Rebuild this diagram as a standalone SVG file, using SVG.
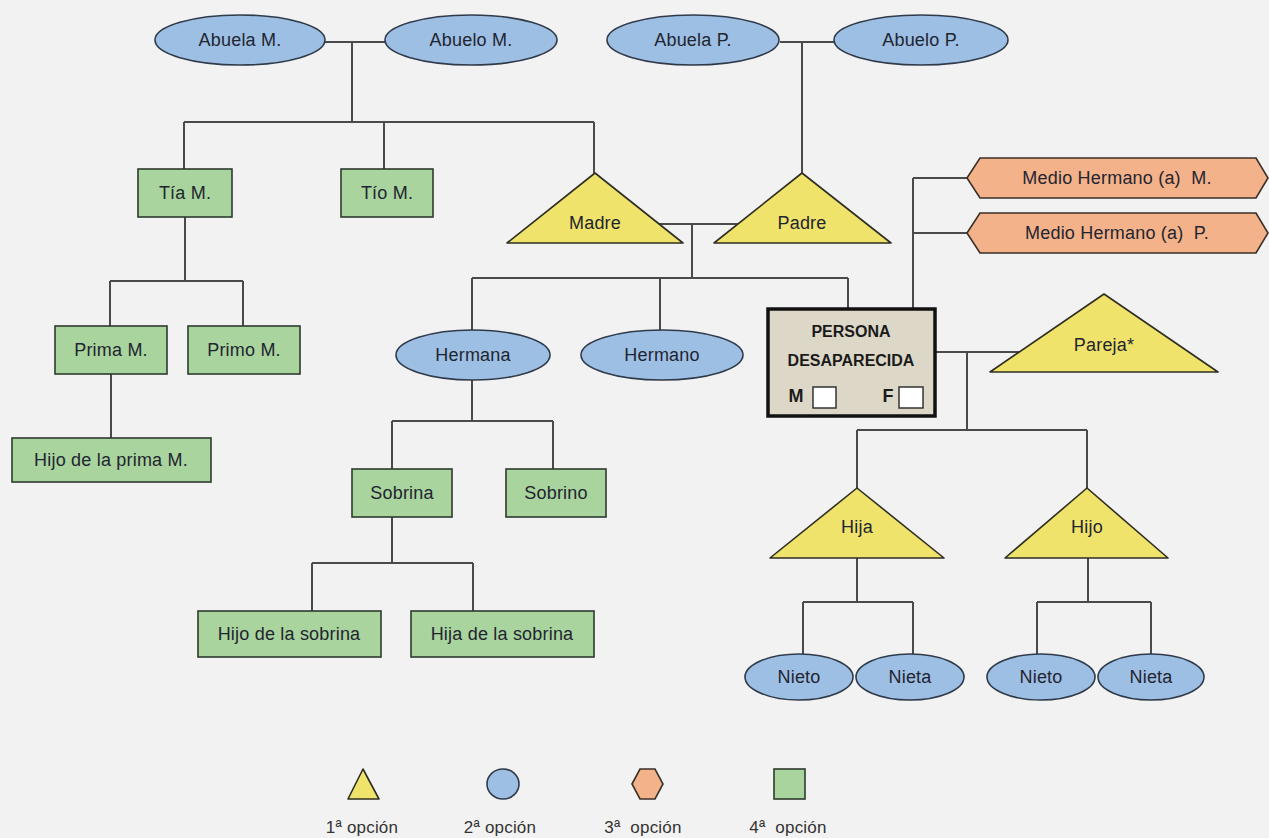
<svg xmlns="http://www.w3.org/2000/svg" width="1269" height="838" viewBox="0 0 1269 838">
<style>
.bg{fill:#f2f2f2}
.c{fill:none;stroke:#4a4a4a;stroke-width:2}
.blue{fill:#9ebfe4;stroke:#2f3a4a;stroke-width:1.6}
.green{fill:#a9d49e;stroke:#2e3a2e;stroke-width:1.6}
.yellow{fill:#efe36c;stroke:#2e2e22;stroke-width:1.6;stroke-linejoin:round}
.orange{fill:#f4b28a;stroke:#3a3028;stroke-width:1.6}
.person{fill:#ddd7c7;stroke:#111;stroke-width:3.5}
.chk{fill:#fff;stroke:#333;stroke-width:1.5}
text{font-family:"Liberation Sans",Arial,sans-serif;font-size:18px;letter-spacing:0.2px;fill:#1f2530;text-anchor:middle;white-space:pre}
.b{font-weight:bold;font-size:16px;fill:#1a1a1a;letter-spacing:0}
.mf{font-weight:bold;font-size:18px;fill:#1a1a1a}
.lg{font-size:17px;fill:#333}
</style>
<rect class="bg" x="0" y="0" width="1269" height="838"/>
<g id="connectors">
<path class="c" d="M325 42 H385 M352 42 V122 M184 122 H594 M184 122 V169 M384 122 V169 M594 122 V173"/>
<path class="c" d="M780 42 H835 M802 42 V173"/>
<path class="c" d="M185 217 V281 M110 281 H243 M110 281 V326 M243 281 V326 M111 374 V438"/>
<path class="c" d="M659 224 H738 M692 224 V278 M472 278 H848 M472 278 V330 M660 278 V330 M848 278 V309"/>
<path class="c" d="M472 380 V421 M392 421 H553 M392 421 V469 M553 421 V469"/>
<path class="c" d="M392 517 V563 M312 563 H473 M312 563 V611 M473 563 V611"/>
<path class="c" d="M913 178 V309 M913 178 H967 M913 233 H967"/>
<path class="c" d="M935 352 H1019 M967 352 V430 M857 430 H1087 M857 430 V488 M1087 430 V488"/>
<path class="c" d="M857 558 V602 M803 602 H913 M803 602 V654 M913 602 V654"/>
<path class="c" d="M1088 558 V602 M1037 602 H1151 M1037 602 V654 M1151 602 V654"/>
</g>
<g id="abuela-m"><ellipse class="blue" cx="240" cy="40" rx="85" ry="25"/><text x="240" y="46">Abuela M.</text></g>
<g id="abuelo-m"><ellipse class="blue" cx="471" cy="40" rx="86" ry="25"/><text x="471" y="46">Abuelo M.</text></g>
<g id="abuela-p"><ellipse class="blue" cx="693" cy="40" rx="86" ry="25"/><text x="693" y="46">Abuela P.</text></g>
<g id="abuelo-p"><ellipse class="blue" cx="921" cy="40" rx="87" ry="25"/><text x="921" y="46">Abuelo P.</text></g>
<g id="tia-m"><rect class="green" x="138" y="169" width="94" height="48"/><text x="185" y="199">Tía M.</text></g>
<g id="tio-m"><rect class="green" x="341" y="169" width="92" height="48"/><text x="387" y="199">Tío M.</text></g>
<g id="prima-m"><rect class="green" x="55" y="326" width="112" height="48"/><text x="111" y="356">Prima M.</text></g>
<g id="primo-m"><rect class="green" x="188" y="326" width="112" height="48"/><text x="244" y="356">Primo M.</text></g>
<g id="hijo-prima"><rect class="green" x="12" y="438" width="199" height="44"/><text x="111" y="466">Hijo de la prima M.</text></g>
<g id="madre"><polygon class="yellow" points="595,173 683,243 507,243"/><text x="595" y="229">Madre</text></g>
<g id="padre"><polygon class="yellow" points="802,173 891,243 714,243"/><text x="802" y="229">Padre</text></g>
<g id="medio-m"><polygon class="orange" points="967,178 980,158 1256,158 1268,178 1256,198 980,198"/><text x="1117" y="184" xml:space="preserve">Medio Hermano (a)  M.</text></g>
<g id="medio-p"><polygon class="orange" points="967,233 980,213 1256,213 1268,233 1256,253 980,253"/><text x="1117" y="239" xml:space="preserve">Medio Hermano (a)  P.</text></g>
<g id="hermana"><ellipse class="blue" cx="473" cy="355" rx="77" ry="25"/><text x="473" y="361">Hermana</text></g>
<g id="hermano"><ellipse class="blue" cx="662" cy="355" rx="81" ry="25"/><text x="662" y="361">Hermano</text></g>
<g id="persona">
<rect class="person" x="768" y="309" width="167" height="107"/>
<text class="b" x="851" y="337">PERSONA</text>
<text class="b" x="851" y="366">DESAPARECIDA</text>
<text class="mf" x="796" y="402">M</text>
<rect class="chk" x="813" y="387" width="23" height="21"/>
<text class="mf" x="888" y="402">F</text>
<rect class="chk" x="899" y="387" width="24" height="21"/>
</g>
<g id="pareja"><polygon class="yellow" points="1104,294 1218,372 990,372"/><text x="1104" y="351">Pareja*</text></g>
<g id="sobrina"><rect class="green" x="352" y="469" width="100" height="48"/><text x="402" y="499">Sobrina</text></g>
<g id="sobrino"><rect class="green" x="506" y="469" width="100" height="48"/><text x="556" y="499">Sobrino</text></g>
<g id="hijo-sobrina"><rect class="green" x="198" y="611" width="183" height="46"/><text x="289" y="640">Hijo de la sobrina</text></g>
<g id="hija-sobrina"><rect class="green" x="411" y="611" width="183" height="46"/><text x="502" y="640">Hija de la sobrina</text></g>
<g id="hija"><polygon class="yellow" points="857,488 944,558 770,558"/><text x="857" y="533">Hija</text></g>
<g id="hijo"><polygon class="yellow" points="1087,488 1168,558 1005,558"/><text x="1087" y="533">Hijo</text></g>
<g id="nieto1"><ellipse class="blue" cx="799" cy="677" rx="54" ry="23"/><text x="799" y="683">Nieto</text></g>
<g id="nieta1"><ellipse class="blue" cx="910" cy="677" rx="54" ry="23"/><text x="910" y="683">Nieta</text></g>
<g id="nieto2"><ellipse class="blue" cx="1041" cy="677" rx="54" ry="23"/><text x="1041" y="683">Nieto</text></g>
<g id="nieta2"><ellipse class="blue" cx="1151" cy="677" rx="53" ry="23"/><text x="1151" y="683">Nieta</text></g>
<g id="legend">
<polygon class="yellow" points="363,769 379,799 348,799"/>
<ellipse class="blue" cx="503" cy="784" rx="16" ry="15"/>
<polygon class="orange" points="632,784 640,769 655,769 663,784 655,799 640,799"/>
<rect class="green" x="774" y="769" width="31" height="30"/>
<text class="lg" x="362" y="833">1ª opción</text>
<text class="lg" x="500" y="833">2ª opción</text>
<text class="lg" x="643" y="833" xml:space="preserve">3ª  opción</text>
<text class="lg" x="788" y="833" xml:space="preserve">4ª  opción</text>
</g>
</svg>
